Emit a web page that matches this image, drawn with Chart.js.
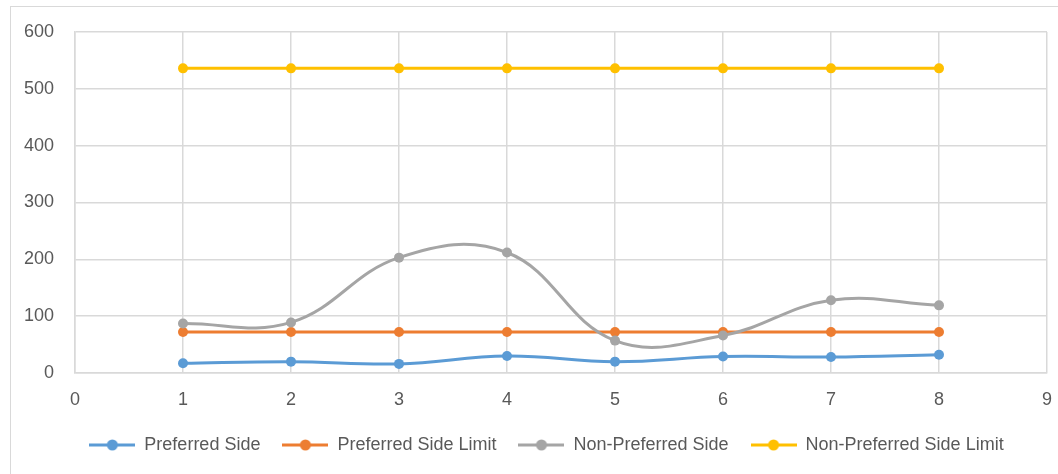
<!DOCTYPE html>
<html>
<head>
<meta charset="utf-8">
<script src="https://cdn.jsdelivr.net/npm/chart.js@4.4.1/dist/chart.umd.min.js"></script>
<style>
  html, body { margin: 0; padding: 0; background: #fff; }
  body { width: 1058px; height: 474px; position: relative; overflow: hidden; }
  #frame { position: absolute; left: 10px; top: 6px; width: 1100px; height: 520px; border: 1.5px solid #d9d9d9; box-sizing: border-box; }
  #wrap { position: absolute; left: 0; top: 0; width: 1058px; height: 474px; }
</style>
</head>
<body>
<div id="frame"></div>
<div id="wrap"><canvas id="chart"></canvas></div>
<script>
// x positions of the samples
const xValues = [1, 2, 3, 4, 5, 6, 7, 8];

// series
const preferredSide = [17, 20, 16, 30, 20, 29, 28, 32];
const preferredSideLimit = [72, 72, 72, 72, 72, 72, 72, 72];
const nonPreferredSide = [87, 89, 203, 212, 57, 66, 128, 119];
const nonPreferredSideLimit = [536, 536, 536, 536, 536, 536, 536, 536];

const seriesNames = ['Preferred Side', 'Preferred Side Limit', 'Non-Preferred Side', 'Non-Preferred Side Limit'];
const seriesColors = ['#5B9BD5', '#ED7D31', '#A5A5A5', '#FFC000'];
const seriesValues = [preferredSide, preferredSideLimit, nonPreferredSide, nonPreferredSideLimit];

const textColor = '#595959';
const gridColor = '#d9d9d9';
const fontFamily = '"Liberation Sans", Arial, sans-serif';

// legend marker: short line with a dot in the middle
function legendMarker(color) {
    const c = document.createElement('canvas');
    c.width = 46;
    c.height = 12;
    const g = c.getContext('2d');
    g.strokeStyle = color;
    g.lineWidth = 3;
    g.beginPath();
    g.moveTo(0, 6);
    g.lineTo(46, 6);
    g.stroke();
    g.fillStyle = color;
    g.beginPath();
    g.arc(23, 6, 5.5, 0, Math.PI * 2);
    g.fill();
    return c;
}
const markers = seriesColors.map(legendMarker);

const datasets = seriesValues.map((vals, i) => ({
    label: seriesNames[i],
    data: vals.map((v, j) => ({ x: xValues[j], y: v })),
    borderColor: seriesColors[i],
    backgroundColor: seriesColors[i],
    borderWidth: 3,
    pointRadius: 5,
    pointHoverRadius: 5,
    pointBorderWidth: 0,
    tension: 0.4,
    order: seriesValues.length - i // later series drawn on top
}));

// the legend in the reference sits a bit right of the canvas centre
const legendShift = {
    id: 'legendShift',
    afterLayout(chart) {
        if (chart.legend) {
            chart.legend.left += 23;
            chart.legend.right += 23;
        }
    }
};

new Chart(document.getElementById('chart'), {
    type: 'line',
    data: { datasets: datasets },
    plugins: [legendShift],
    options: {
        responsive: true,
        maintainAspectRatio: false,
        animation: false,
        layout: { padding: { left: 0, top: 32, right: 11, bottom: 10 } },
        scales: {
            x: {
                type: 'linear',
                min: 0,
                max: 9,
                ticks: { stepSize: 1, color: textColor, padding: 16, font: { family: fontFamily, size: 18 } },
                grid: { color: gridColor, lineWidth: 1.5, drawTicks: false },
                border: { color: gridColor, width: 1.5 },
                afterFit: (scale) => {
                    scale.height = 41;
                    scale.paddingLeft = 0;
                    scale.paddingRight = 0;
                }
            },
            y: {
                min: 0,
                max: 600,
                ticks: { stepSize: 100, color: textColor, padding: 21, font: { family: fontFamily, size: 18 } },
                grid: { color: gridColor, lineWidth: 1.5, drawTicks: false },
                border: { color: gridColor, width: 1.5 },
                afterFit: (scale) => {
                    scale.width = 75;
                    scale.paddingTop = 0;
                    scale.paddingBottom = 0;
                }
            }
        },
        plugins: {
            tooltip: { enabled: false },
            legend: {
                position: 'bottom',
                labels: {
                    usePointStyle: true,
                    pointStyleWidth: 46,
                    padding: 22,
                    color: textColor,
                    font: { family: fontFamily, size: 18 },
                    sort: (a, b) => a.datasetIndex - b.datasetIndex,
                    generateLabels: (chart) => {
                        const items = Chart.defaults.plugins.legend.labels.generateLabels(chart);
                        items.forEach(it => { it.pointStyle = markers[it.datasetIndex]; });
                        return items;
                    }
                }
            }
        }
    }
});
</script>
</body>
</html>
